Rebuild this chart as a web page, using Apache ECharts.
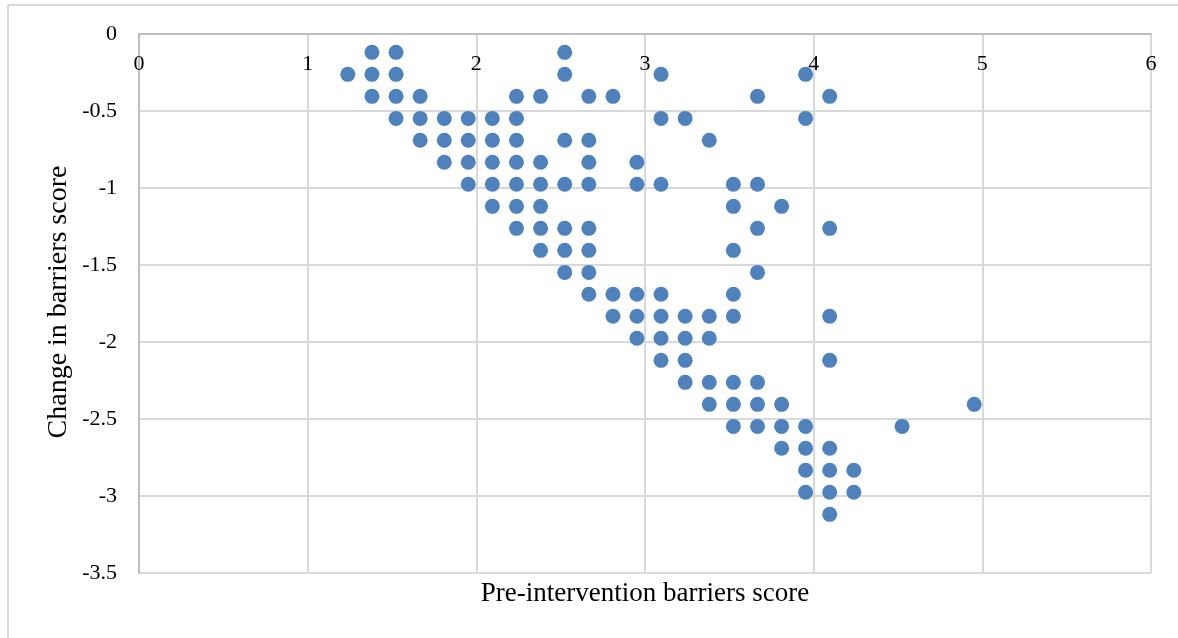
<!DOCTYPE html>
<html>
<head>
<meta charset="utf-8">
<script src="https://cdn.jsdelivr.net/npm/echarts@6/dist/echarts.min.js"></script>
<style>
  html, body { margin: 0; padding: 0; background: #ffffff; }
  #chart { width: 1178px; height: 638px; }
</style>
</head>
<body>
<div id="chart"></div>
<script>
// Change in barriers score, one row per level of change
const changeLevels = [
  -0.119, -0.262, -0.405, -0.548, -0.690, -0.833, -0.976, -1.119,
  -1.262, -1.405, -1.548, -1.690, -1.833, -1.976, -2.119, -2.262,
  -2.405, -2.548, -2.690, -2.833, -2.976, -3.119
];

// Pre-intervention barriers scores observed at each change level
const preScoresByLevel = [
  [1.381, 1.524, 2.524],
  [1.238, 1.381, 1.524, 2.524, 3.095, 3.952],
  [1.381, 1.524, 1.667, 2.238, 2.381, 2.667, 2.810, 3.667, 4.095],
  [1.524, 1.667, 1.810, 1.952, 2.095, 2.238, 3.095, 3.238, 3.952],
  [1.667, 1.810, 1.952, 2.095, 2.238, 2.524, 2.667, 3.381],
  [1.810, 1.952, 2.095, 2.238, 2.381, 2.667, 2.952],
  [1.952, 2.095, 2.238, 2.381, 2.524, 2.667, 2.952, 3.095, 3.524, 3.667],
  [2.095, 2.238, 2.381, 3.524, 3.810],
  [2.238, 2.381, 2.524, 2.667, 3.667, 4.095],
  [2.381, 2.524, 2.667, 3.524],
  [2.524, 2.667, 3.667],
  [2.667, 2.810, 2.952, 3.095, 3.524],
  [2.810, 2.952, 3.095, 3.238, 3.381, 3.524, 4.095],
  [2.952, 3.095, 3.238, 3.381],
  [3.095, 3.238, 4.095],
  [3.238, 3.381, 3.524, 3.667],
  [3.381, 3.524, 3.667, 3.810, 4.952],
  [3.524, 3.667, 3.810, 3.952, 4.524],
  [3.810, 3.952, 4.095],
  [3.952, 4.095, 4.238],
  [3.952, 4.095, 4.238],
  [4.095]
];

const xTitle = 'Pre-intervention barriers score';
const yTitle = 'Change in barriers score';

const points = [];
preScoresByLevel.forEach((row, i) => {
  row.forEach(x => points.push([x, changeLevels[i]]));
});

const serif = '"Liberation Serif", "Times New Roman", serif';
const gridColor = '#d9d9d9';
const axisColor = '#bfbfbf';

const chart = echarts.init(document.getElementById('chart'));
chart.setOption({
  animation: false,
  backgroundColor: '#ffffff',
  grid: { left: 139, top: 34, width: 1012, height: 539, containLabel: false },
  xAxis: {
    type: 'value',
    position: 'top',
    min: 0, max: 6, interval: 1,
    axisLine: { show: true, onZero: false, lineStyle: { color: axisColor, width: 2 } },
    axisTick: { show: false },
    axisLabel: { inside: true, color: '#000', fontFamily: serif, fontSize: 22, margin: 19 },
    splitLine: { show: true, lineStyle: { color: gridColor, width: 2 } }
  },
  yAxis: {
    type: 'value',
    min: -3.5, max: 0, interval: 0.5,
    axisLine: { show: true, onZero: false, lineStyle: { color: axisColor, width: 2 } },
    axisTick: { show: false },
    axisLabel: { color: '#000', fontFamily: serif, fontSize: 22, margin: 22 },
    splitLine: { show: true, lineStyle: { color: gridColor, width: 2 } }
  },
  graphic: [
    { type: 'line', shape: { x1: 8, y1: 5, x2: 1178, y2: 5 }, style: { stroke: gridColor, lineWidth: 2 } },
    { type: 'line', shape: { x1: 8, y1: 5, x2: 8, y2: 638 }, style: { stroke: gridColor, lineWidth: 2 } },
    {
      type: 'text', x: 645, y: 594,
      style: { text: xTitle, fill: '#000', font: '27px ' + serif, align: 'center', verticalAlign: 'middle' }
    },
    {
      type: 'text', x: 59, y: 302, rotation: Math.PI / 2,
      style: { text: yTitle, fill: '#000', font: '28px ' + serif, align: 'center', verticalAlign: 'middle' }
    }
  ],
  series: [{
    type: 'scatter',
    data: points,
    symbol: 'circle',
    symbolSize: 15,
    itemStyle: { color: '#4f81bd', opacity: 1 }
  }]
});
</script>
</body>
</html>
